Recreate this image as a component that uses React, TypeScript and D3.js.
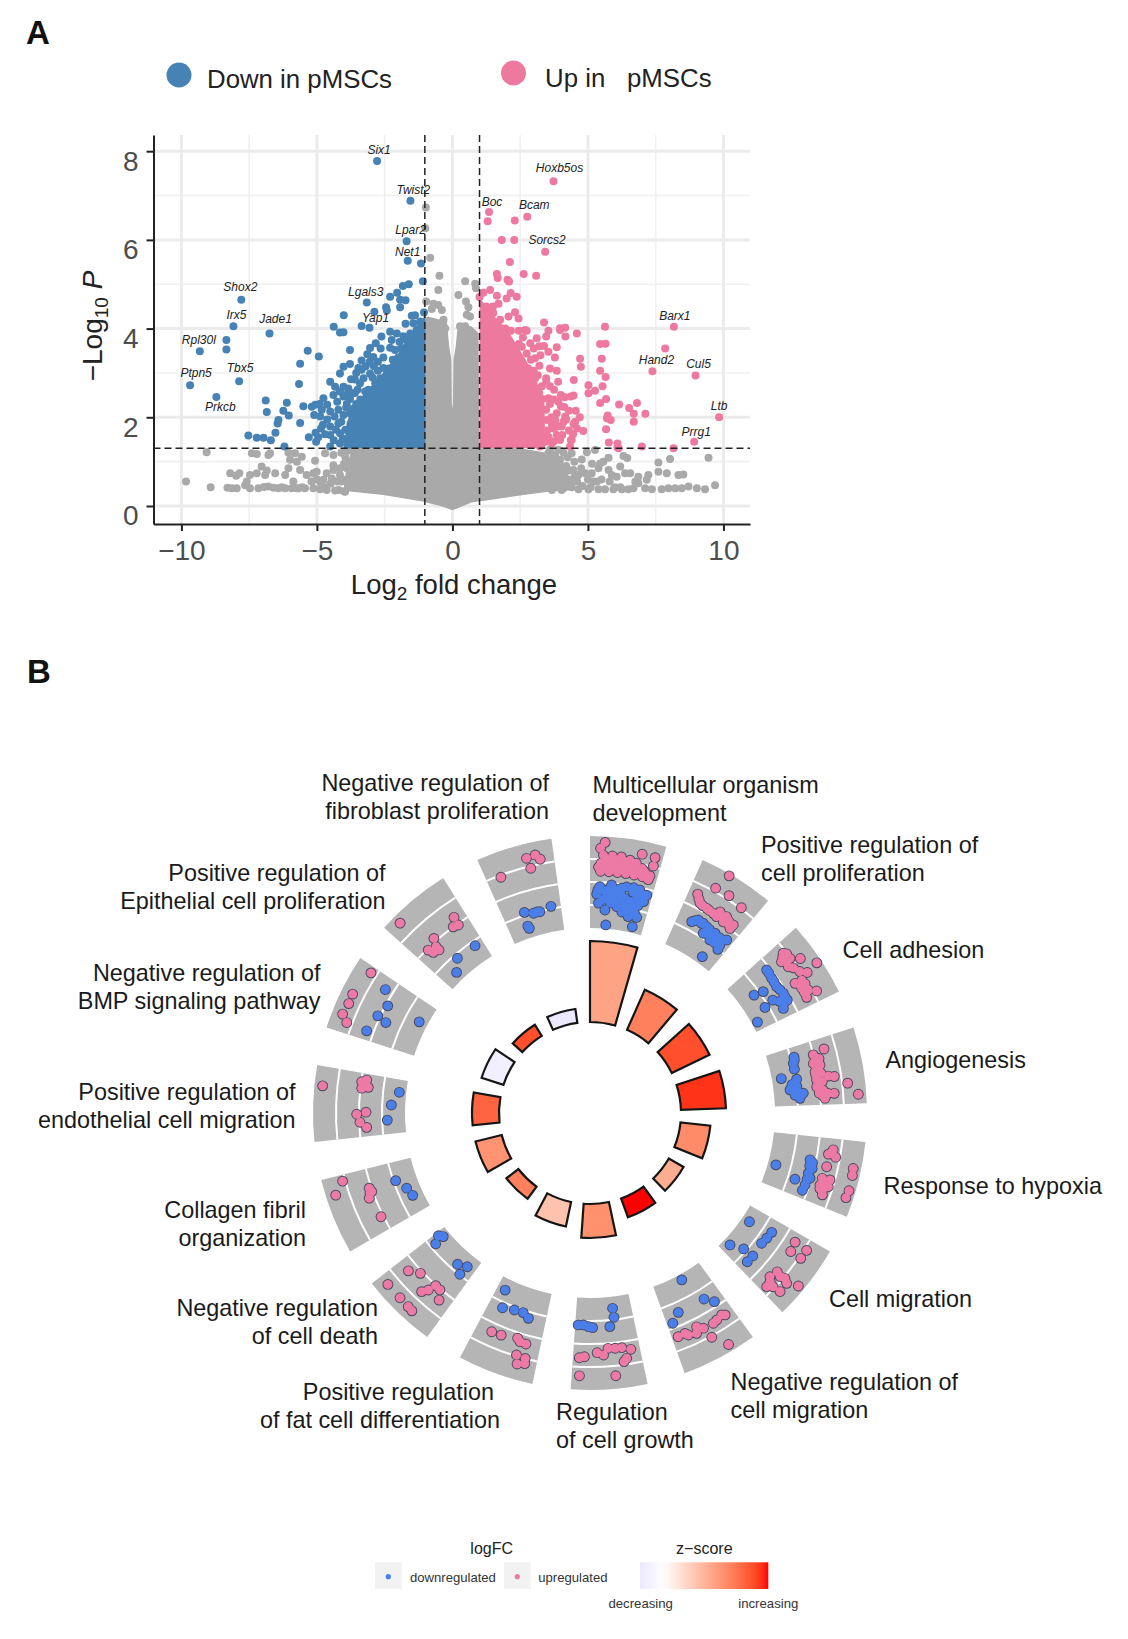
import React, { useEffect, useRef } from 'react';
import * as d3 from 'd3';

type Pair = [number, number];

const grayCloudX = [-4.0, -3.85, -3.7, -2.55, -1.44, -1.0, -0.9, -0.45, -0.3, -0.2, -0.12, -0.04, -0.02, 0, 0.02, 0.04, 0.12, 0.2, 0.7, 0.96, 1.0, 2.44, 2.9, 3.55, 3.8, 4.05, 4.3, 4.42];
const grayCloudTop = [0.5, 1.0, 1.3, 1.3, 1.3, 4.25, 4.27, 4.2, 4.15, 4.15, 3.6, 3.3, 2.3, 2.2, 2.3, 3.3, 3.6, 4.1, 4.05, 3.9, 1.3, 1.3, 1.26, 1.19, 1.15, 1.04, 0.66, 0.36];
const grayCloudLow = [0.34, 0.33, 0.32, 0.25, 0.135, 0.09, 0.07, 0.0, -0.03, -0.05, -0.07, -0.09, -0.09, -0.09, -0.09, -0.09, -0.07, -0.05, 0.08, 0.1, 0.1, 0.23, 0.27, 0.32, 0.33, 0.34, 0.35, 0.36];
const blueCloudX = [-4.0, -3.9, -3.3, -2.7, -2.05, -1.69, -1.32, -1.0];
const blueCloudTop = [1.3, 1.9, 2.5, 2.9, 3.4, 3.7, 4.05, 4.3];
const pinkCloudX = [1.0, 1.5, 2.0, 2.5, 3.0, 3.4, 3.42];
const pinkCloudTop = [4.7, 4.3, 4.0, 3.5, 3.0, 2.3, 1.3];

const grayPoints: Pair[] = [
  [-9.83, 0.55], [-9.07, 1.21], [-8.92, 0.42], [-8.3, 0.41], [-8.14, 0.4], [-7.96, 0.4], [-8.2, 0.74], [-7.86, 0.74], [-7.98, 0.68],
  [-7.59, 0.55], [-7.65, 0.47], [-7.47, 0.4], [-7.16, 0.4], [-7.47, 0.7], [-7.22, 0.74], [-7.04, 0.89], [-6.85, 0.8], [-6.91, 0.7],
  [-7.4, 1.19], [-7.22, 1.17], [-6.73, 1.19], [-6.79, 1.15], [-6.54, 0.74], [-6.17, 0.7], [-6.05, 0.85], [-6.79, 0.44], [-6.6, 0.41],
  [-6.42, 0.4], [-6.17, 0.4], [-5.93, 0.4], [-5.87, 0.55], [-5.68, 0.4], [-5.44, 0.4], [-6.05, 1.2], [-5.81, 1.19], [-5.99, 1.04],
  [-5.56, 1.11], [-5.74, 1.0], [-5.07, 1.02], [-4.7, 1.19], [-4.39, 1.15], [-5.62, 0.81], [-5.38, 0.7], [-5.13, 0.74], [-5.01, 0.77],
  [-4.64, 0.74], [-4.39, 0.81], [-4.76, 0.59], [-4.45, 0.62], [-4.15, 0.7], [-4.39, 0.92], [-5.13, 0.4], [-4.88, 0.38], [-4.64, 0.36],
  [-4.33, 0.35], [-3.96, 0.32], [-4.1, 0.55], [-3.9, 0.85], [-3.95, 1.1],
  [-4.0, 0.33], [-4.2, 0.36], [-3.8, 1.25], [-3.85, 1.0], [-3.8, 0.7], [-4.0, 0.95], [-4.15, 0.85], [-4.05, 0.6], [-4.25, 0.55], [-4.5, 0.5],
  [-4.7, 0.42], [-4.85, 0.5], [-5.0, 0.6], [-5.2, 0.55], [-5.55, 0.42], [-5.75, 0.4], [-6.3, 0.42], [-6.95, 0.43], [-3.95, 1.25], [-4.1, 1.2],
  [-0.98, 6.73], [-1.0, 6.26], [-0.82, 5.6], [-0.48, 5.19], [-0.52, 4.87], [0.47, 5.07], [0.22, 4.76], [0.84, 5.01], [0.87, 4.91],
  [0.5, 4.61], [0.59, 4.48], [-0.97, 4.61], [-0.7, 4.56], [-0.52, 4.53], [-0.39, 4.42], [-0.76, 4.44], [0.53, 4.31], [0.65, 4.27],
  [0.28, 4.05], [0.47, 4.05], [-0.33, 4.2], [-0.27, 4.0],
  [4.4, 1.19], [4.96, 1.21], [5.26, 1.26], [5.76, 1.09], [6.31, 1.13], [6.45, 1.08], [4.77, 1.05], [5.45, 0.96], [5.57, 1.0], [6.19, 0.89],
  [7.6, 0.98], [8.03, 1.06], [9.45, 1.09], [4.46, 0.81], [4.65, 0.7], [4.9, 0.74], [5.14, 0.74], [5.39, 0.85], [5.76, 0.81], [5.88, 0.7],
  [6.06, 0.66], [6.37, 0.74], [6.56, 0.74], [7.23, 0.7], [7.6, 0.77], [7.91, 0.74], [8.34, 0.7], [8.52, 0.71], [6.86, 0.66], [7.17, 0.59],
  [4.4, 0.51], [5.33, 0.55], [5.5, 0.6], [4.65, 0.38], [5.02, 0.38], [5.39, 0.38], [5.63, 0.38], [5.94, 0.38], [6.25, 0.38], [6.49, 0.38],
  [6.68, 0.4], [6.86, 0.51], [7.11, 0.4], [7.36, 0.38], [7.72, 0.38], [7.97, 0.4], [8.22, 0.4], [8.46, 0.4], [8.71, 0.44], [9.02, 0.4],
  [9.32, 0.38], [9.69, 0.47], [3.67, 0.36], [4.03, 0.36], [4.28, 0.59], [4.03, 0.81], [3.97, 1.04], [3.79, 1.15], [3.54, 1.19], [4.2, 0.9],
  [4.1, 0.4], [4.4, 0.42], [4.6, 0.55], [4.8, 0.45], [5.1, 0.42], [5.2, 0.55], [4.5, 0.65], [4.3, 0.8], [4.5, 1.0], [4.1, 1.2],
  [4.25, 1.1], [3.9, 1.27], [3.6, 1.27], [4.75, 0.85], [5.0, 0.6], [5.15, 0.95], [5.8, 0.55], [6.0, 0.42], [6.2, 0.42], [6.75, 0.55],
];

const bluePoints: Pair[] = [
  [-1.16, 5.47], [-1.09, 5.07], [-1.61, 5.0], [-1.83, 4.96], [-2.04, 4.81], [-2.3, 4.72], [-1.93, 4.65], [-1.73, 4.64], [-1.93, 4.48],
  [-2.45, 4.48], [-2.42, 4.41], [-2.88, 4.38], [-4.01, 4.3], [-1.5, 4.29], [-1.38, 4.3], [-1.05, 4.36], [-1.73, 4.11], [-3.35, 4.06],
  [-4.38, 4.04], [-4.15, 3.91], [-4.02, 3.92], [-8.34, 3.74], [-8.34, 3.53], [-5.34, 3.5], [-4.93, 3.37], [-5.62, 3.21], [-5.66, 2.75],
  [-6.89, 2.38], [-6.11, 2.33], [-6.85, 2.12], [-6.24, 2.15], [-6.04, 2.04], [-5.5, 2.25], [-5.19, 2.24], [-5.06, 2.28], [-6.42, 1.94],
  [-6.45, 1.86], [-5.62, 1.87], [-6.53, 1.65], [-7.53, 1.59], [-7.22, 1.54], [-6.97, 1.54], [-6.7, 1.48], [-6.2, 1.34], [-5.03, 1.45],
  [-3.78, 3.52], [-2.62, 3.82], [-2.83, 3.67], [-3.04, 3.56], [-3.14, 3.42], [-2.92, 3.36], [-3.35, 3.28], [-3.78, 3.2], [-4.02, 3.14],
  [-4.15, 2.99], [-3.74, 2.86], [-4.51, 2.8], [-4.33, 2.69], [-4.15, 2.58], [-4.02, 2.69], [-3.84, 2.65], [-3.71, 2.54], [-4.39, 2.5],
  [-4.02, 2.47], [-3.78, 2.41], [-4.76, 2.43], [-4.82, 2.17], [-4.51, 2.13], [-4.88, 2.02], [-4.21, 2.17], [-3.78, 2.09], [-4.02, 2.05],
  [-4.78, 1.83], [-4.51, 1.79], [-4.21, 1.86], [-4.51, 1.6], [-4.15, 1.64], [-3.78, 1.75], [-4.51, 1.34], [-4.15, 1.41], [-3.71, 1.49],
  [-3.41, 1.64], [-3.53, 1.94], [-3.28, 2.24], [-3.41, 2.77], [-3.22, 2.58], [-3.35, 3.07], [-3.47, 3.11], [-3.28, 2.88], [-3.04, 2.99],
  [-2.85, 2.77], [-2.55, 3.11], [-2.42, 2.92], [-2.67, 2.88], [-2.98, 2.47], [-2.42, 2.69], [-2.05, 3.14], [-1.87, 3.37], [-1.69, 3.59],
  [-2.3, 3.57], [-2.12, 3.52], [-2.24, 3.74], [-2.3, 3.93], [-2.05, 3.89], [-1.81, 3.83], [-1.56, 3.89], [-1.32, 3.97], [-1.32, 3.67],
  [-1.5, 3.41], [-1.44, 4.12], [-1.19, 4.16], [-3.6, 1.4], [-3.9, 2.3], [-3.55, 2.3], [-3.1, 2.2], [-2.75, 2.6], [-2.2, 3.1],
  [-4.95, 1.55], [-4.7, 1.62], [-4.85, 1.75], [-4.62, 1.95], [-4.38, 1.48], [-4.3, 1.72], [-4.35, 2.02], [-4.1, 1.9], [-4.05, 1.52], [-3.95, 1.72],
  [-3.88, 1.38], [-3.92, 2.22], [-3.7, 1.6], [-3.7, 1.95], [-3.65, 2.2], [-3.6, 1.8], [-3.5, 2.08], [-3.45, 1.5], [-3.3, 1.78], [-3.4, 2.4],
  [-3.6, 2.55], [-3.5, 2.62], [-3.15, 2.35], [-3.1, 2.62], [-3.0, 2.25], [-2.95, 2.9], [-2.8, 2.35], [-2.75, 3.05], [-2.6, 2.62], [-2.5, 2.75],
  [-2.35, 3.1], [-2.2, 3.3], [-2.55, 3.35], [-2.75, 3.25], [-2.0, 3.35], [-1.9, 3.55], [-1.95, 3.7], [-1.7, 3.75], [-1.5, 3.65], [-1.2, 4.0],
  [-4.62, 2.28], [-4.9, 2.3], [-5.1, 2.05], [-5.05, 1.65], [-5.3, 1.55], [-4.25, 2.35], [-3.95, 2.5], [-3.6, 2.85], [-3.55, 3.0], [-3.2, 3.15],
  [-3.05, 3.25], [-2.9, 3.15], [-2.65, 3.55],
];

const pinkPoints: Pair[] = [
  [1.3, 6.42], [2.3, 6.44], [1.82, 6.0], [2.28, 6.0], [2.12, 5.5], [2.63, 5.23], [3.09, 5.19], [1.64, 5.23], [1.67, 5.14], [2.03, 5.1],
  [2.09, 5.06], [1.39, 4.87], [1.14, 4.81], [1.0, 4.71], [1.64, 4.74], [1.7, 4.56], [2.15, 4.8], [2.0, 4.68], [2.37, 4.72], [1.33, 4.42],
  [1.14, 4.38], [1.51, 4.35], [2.31, 4.37], [2.07, 4.27], [2.44, 4.23], [1.76, 4.2], [3.38, 4.14], [3.97, 4.01], [4.16, 4.02], [3.97, 3.97],
  [4.59, 3.89], [4.17, 3.82], [5.63, 4.04], [7.85, 3.55], [2.16, 3.95], [2.68, 3.97], [2.74, 3.95], [3.54, 3.95], [3.46, 3.82], [3.11, 3.78],
  [3.38, 3.61], [3.85, 3.58], [3.54, 3.48], [3.78, 3.35], [2.87, 3.67], [2.56, 3.59], [2.74, 3.44], [3.05, 3.33], [5.45, 3.65], [5.65, 3.66],
  [5.51, 3.32], [4.71, 3.32], [4.74, 3.14], [5.45, 3.05], [5.65, 2.91], [3.6, 3.1], [3.21, 3.16], [4.48, 2.84], [5.02, 2.72], [5.54, 2.7],
  [5.26, 2.6], [5.02, 2.54], [3.05, 2.88], [2.99, 2.77], [3.46, 2.88], [3.46, 2.8], [2.8, 2.8], [3.75, 2.62], [4.47, 2.49], [4.37, 2.47],
  [5.67, 2.41], [5.45, 2.32], [6.15, 2.29], [6.81, 2.32], [6.52, 2.21], [6.69, 2.08], [7.12, 2.08], [6.69, 1.9], [5.73, 2.04], [5.84, 1.94],
  [5.7, 1.98], [5.67, 1.73], [4.83, 1.69], [4.53, 1.9], [4.47, 1.85], [4.16, 2.02], [4.13, 2.23], [3.91, 2.35], [3.54, 2.43], [3.33, 2.41],
  [3.05, 2.29], [3.46, 2.17], [3.85, 2.09], [3.79, 1.94], [3.48, 1.94], [3.11, 2.09], [2.74, 2.17], [3.23, 1.86], [2.99, 1.75], [3.36, 1.64],
  [3.73, 1.75], [4.2, 1.95], [3.97, 1.49], [3.73, 1.45], [3.42, 1.45], [4.37, 1.49], [4.34, 1.34], [3.23, 1.34], [5.77, 1.43], [6.09, 1.41],
  [6.09, 1.32], [6.99, 1.34], [8.16, 1.3], [6.13, 1.3], [4.4, 1.49], [3.67, 1.41], [3.97, 1.53], [3.42, 1.6], [4.03, 1.79], [3.67, 1.83],
  [2.93, 1.64], [3.11, 1.49], [2.95, 2.5], [3.1, 2.6], [2.5, 2.9],
  [2.95, 1.4], [3.05, 1.9], [3.15, 1.6], [3.3, 1.5], [3.25, 2.0], [3.5, 1.7], [3.55, 1.55], [3.65, 2.0], [3.6, 2.3], [3.85, 1.6],
  [3.9, 1.8], [4.05, 1.6], [4.1, 1.9], [4.3, 1.7], [4.45, 1.62], [4.6, 1.75], [4.55, 2.15], [4.3, 2.15], [4.0, 2.5], [3.75, 2.4],
  [3.2, 2.55], [3.3, 2.7], [3.0, 3.05], [2.9, 2.55], [2.7, 2.9], [2.8, 3.1], [2.55, 3.25], [2.9, 3.3], [3.15, 2.95], [3.25, 3.4],
  [2.4, 3.4], [2.3, 3.55], [2.1, 3.7], [2.0, 3.8], [1.95, 4.0], [1.6, 4.05], [1.35, 4.25], [1.25, 4.5], [1.5, 4.5], [1.85, 3.95],
  [2.45, 3.65], [2.6, 3.8], [2.45, 3.95], [3.0, 3.55], [3.2, 3.6], [4.0, 2.25], [4.15, 2.45], [4.7, 2.0], [3.9, 2.8], [3.6, 2.7], [3.85, 3.05],
];

const geneNames = ['Six1', 'Twist2', 'Lpar2', 'Net1', 'Shox2', 'Irx5', 'Jade1', 'Rpl30l', 'Ptpn5', 'Tbx5', 'Prkcb', 'Lgals3', 'Yap1', 'Hoxb5os', 'Boc', 'Bcam', 'Sorcs2', 'Barx1', 'Hand2', 'Cul5', 'Ltb', 'Prrg1'];
const geneFc = [-2.78, -1.55, -1.69, -1.65, -7.79, -8.08, -6.75, -9.32, -9.68, -7.87, -8.71, -3.16, -3.06, 3.73, 1.35, 2.76, 3.42, 8.17, 7.38, 8.97, 9.84, 8.92];
const geneP = [7.78, 6.88, 5.97, 5.53, 4.65, 4.05, 3.89, 3.49, 2.72, 2.81, 2.46, 4.59, 4.02, 7.32, 6.63, 6.52, 5.73, 4.04, 3.04, 2.94, 2.0, 1.45];
const geneLabelNudge: Pair[] = [[2, -11], [3, -11], [4, -11], [0, -9], [-1, -13], [3, -11], [6, -14], [-1, -11], [6, -12], [1, -13], [4, 10], [-1, -10], [6, -10], [6, -13], [3, -10], [7, -12], [2, -12], [1, -11], [4, -11], [3, -12], [0, -11], [2, -10]];

const xTicks = [-10, -5, 0, 5, 10];
const yTicks = [0, 2, 4, 6, 8];
const xMinor = [-7.5, -2.5, 2.5, 7.5];
const yMinor = [1, 3, 5, 7];

// ---- GO circle
const termCounts = [81, 44, 42, 45, 30, 17, 20, 34, 25, 15, 27, 27, 23, 13, 14];
const termZ = [1.92, 2.6, 3.4, 3.72, 2.4, 1.72, 4.0, 2.28, 1.28, 2.6, 2.24, 3.08, -0.32, 3.4, -0.5];

// [degrees into the sector, logFC position on the track]
const upDots: Pair[][] = [
  [[3.2, 40], [2.3, 34], [11.4, 33], [14.3, 32.5], [14.4, 24], [14.2, 13.5], [3, 27], [5, 27], [7, 27], [9, 25], [10.5, 23], [2.5, 19], [4.5, 19], [6.5, 19], [8.5, 19], [10.5, 19], [12, 19], [2.5, 11], [4.5, 11], [6.5, 11], [8.5, 11], [10.5, 11], [12.5, 11], [14, 9.5], [3.5, 15], [5.5, 15], [7.5, 15], [9.5, 15], [11.5, 15], [13, 15], [3.5, 23], [5.5, 23], [7.5, 23], [9, 21], [2, 15], [13.5, 12], [12.5, 17]],
  [[6.4, 44], [5.2, 26.5], [8.6, 27], [12.4, 24], [2.2, 13], [3.7, 6], [5.7, 4.6], [7.7, 3.7], [8.9, 8.6], [10.8, 8.2], [13.3, 5.4], [10.9, 2], [8.8, 2.6], [13.2, 0.7], [3, 9], [4.5, 5], [6.5, 4], [9.5, 5.5], [11.8, 6], [12.4, 3]],
  [[8.5, 41], [5.7, 30], [2.4, 19.7], [4.3, 21.8], [3.7, 13], [5.6, 15.4], [8, 22], [9.1, 27.7], [9.7, 11.6], [9.9, 19], [13.7, 26.4], [12.6, 19.6], [11.5, 14.7], [13.9, 14.6], [3, 17], [3, 22], [4.5, 17], [6.5, 19], [10.5, 15], [11, 20], [12.6, 15]],
  [[2.7, 11.6], [3.4, -0.3], [4.6, 4.4], [5.5, -2.2], [6.2, 4], [7.6, -2.2], [8.2, 3.4], [9.2, 10.2], [9.5, 16], [9.7, -2], [10.3, 3.4], [11.4, -2.8], [12.4, 3.4], [13.6, 2], [13.3, 8], [13.4, 14], [14.4, 4.5], [11.4, 28.4], [14, 38], [5, 0], [7, 1], [8.5, -2], [10.7, 0], [12, 0], [13, -1]],
  [[2.6, 15], [3.8, 11], [4.2, 18.6], [6.8, 11.7], [5.9, 38], [7.4, 38.7], [9.7, 10.3], [9.6, 18.2], [11.4, 10], [11.2, 18.4], [13.4, 15.4], [10.7, 39.4], [12.3, 38.6], [10.5, 13], [12.5, 14], [12.2, 11], [3.2, 14]],
  [[2.2, 11.4], [4.6, 12.9], [2.4, 25.5], [4.6, 25], [10.3, 14.5], [13.1, 15.7], [13.5, 21.5], [13.2, 29.8], [10.9, 29.2], [10.3, 24.6], [9.7, 39.8], [12.3, 12.3], [14.5, 16.8], [10.7, 19.8]],
  [[4.5, 11.7], [2.2, 12], [2.9, 10], [5.6, 12.8], [8.2, 12.3], [10.2, 13.8], [12.1, 11.8], [14.5, 9.5], [7.5, 24.2], [5.1, 38.8], [12.7, 9], [9.5, 7.9]],
  [[2.2, 8.8], [4.3, 5.8], [5.9, 5.6], [7.6, 5], [8.8, 11.4], [10.3, 8.8], [13.3, 12.8], [4.2, 20], [14.3, 32], [6.4, 33], [3.5, 17], [14.5, 14]],
  [[12.2, 8.8], [9.8, 8.2], [5.8, 5.6], [5, 8.2], [3.5, 8.7], [4.9, 21.9], [2.8, 22.8], [4.2, 30.4], [2.6, 28]],
  [[13, 9.6], [10.6, 2.4], [13.7, 34], [9.8, 34], [7.2, 34.6], [6, 35.2], [7.3, 14.5], [6.4, 8.7], [5.8, 0.6], [4.3, 1], [2.9, 9.4]],
  [[14.6, 25.6], [12.1, 36.2], [11.2, 2.2], [10, 3.2], [8.9, 5.6], [10.2, 1], [3.6, 2.3]],
  [[11.8, 37.7], [13.8, -0.6], [14.4, -5.3], [12.7, -4.5], [12.2, -1.4], [12.6, -7.8], [5.7, 2.3], [6.2, -7], [3.7, -0.8], [2.3, -7.2]],
  [[14.6, 29], [8.6, 34.5], [6.4, 33.9], [3.8, 35.4], [2.4, 28.5]],
  [[3, 37.5], [13.2, 7.3], [11.7, 0], [13, -1.5], [6.2, 3.2], [5.2, -4.3], [3.2, -1.4], [3.7, -6.6], [5.2, -8.8]],
  [[3.3, 21], [10, 31.5], [10.4, 20.8], [12, 32.8], [12.9, 27.6]],
];
const downDots: Pair[][] = [
  [[2.5, -4.5], [5.4, -2], [9.2, -2], [12.6, -2.5], [14.6, -6], [1.75, -12], [4.4, -14], [6.7, -16.5], [9.3, -13.5], [12.3, -11], [14.2, -13], [2.3, -21], [4.2, -27.5], [7.4, -23], [9.5, -20], [12, -23.4], [11, -31], [13.4, -30], [4.8, -42.3], [12.8, -40], [9, -27.5], [3.5, -8], [7, -6], [11, -6], [6, -11], [8, -10], [10.5, -16], [13, -18], [5.5, -20], [2, -8], [5, -6], [8, -4], [11, -1.5], [13.5, -7], [3.5, -17], [5.5, -15], [8, -15], [11.5, -15.5], [13, -13], [7, -19], [10.5, -22], [12.5, -26], [10, -25]],
  [[4, -14.3], [5.3, -9.7], [8, -11.2], [10.8, -12], [14.3, -10.5], [8.2, -18.6], [10.7, -20.5], [13.7, -18.6], [14, -23.4], [11.7, -38.5], [6.5, -11], [9.5, -15], [4.6, -12], [6.8, -10], [9, -12], [9, -17], [11.5, -15], [12.5, -13], [12, -20]],
  [[3, -3.7], [5.4, -4.8], [7.9, -5.6], [10.2, -3.6], [12.2, -3.6], [13.6, -11.2], [10.3, -16.2], [10.9, -26.6], [7, -19.5], [6.3, -29], [13.5, -40.5], [4, -4], [6.5, -5], [9, -4.5], [11.2, -4], [12.5, -8], [11.5, -11]],
  [[2.7, -19.5], [4.3, -21.7], [5.9, -22], [7.8, -36.6], [8.7, -21.6], [10.6, -22.5], [11.4, -29.7], [12.2, -21.6], [14, -20.5], [12.7, -16.8], [13, -25.2], [3.5, -20], [10, -27], [11.5, -25]],
  [[9.6, -38], [11.9, -15.6], [6, -6], [6.6, -3], [9.4, -4.5], [10.5, -1.5], [12.5, -4.2], [14, -5], [7.5, -5], [8, -2], [11, -4]],
  [[4.3, -38], [13.3, -38.6], [11.5, -25.8], [3.3, -13.6], [5.3, -14.4], [7.2, -15.5], [11.3, -14.4], [13.4, -14.5]],
  [[7.2, -40.5], [4.5, -12.8], [2.6, -5], [12.1, -13], [14.5, -5]],
  [[5.4, -34.4], [5.3, -25.3], [6.7, -16.4], [15.2, -18.7], [13.8, -19], [12.4, -17.3], [11.3, -16.3]],
  [[13.6, -34.6], [12.2, -17.5], [9, -20], [6.5, -20.5], [4.7, -16.6]],
  [[15, -36], [13.9, -39.1], [13.7, -28.6], [5.2, -30], [2.6, -34.3], [2.9, -23.8]],
  [[10.8, -25.2], [7.7, -32.8], [5.1, -35.5]],
  [[12.2, -39.2], [8.3, -32.2], [4, -28.2]],
  [[13.1, 8], [9.9, -2.1], [6.6, 2.4], [5.9, -7.7], [2.2, 7], [10.1, -37.4]],
  [[13.5, -28], [7.4, -27.2], [4.5, -37.2]],
  [[5.9, -20], [9.2, -23.1], [13.3, -20.7], [5.6, -34], [8.2, -23.4], [10, -23.6], [5.8, -36.6]],
];
const trackLines = [-23, 0, 23];

const termLabels: { lines: string[]; anchor: string; x: number; y: number; firstDx?: number }[] = [
  { lines: ['Multicellular organism', 'development'], anchor: 'start', x: 592.5, y: 793 },
  { lines: ['Positive regulation of', 'cell proliferation'], anchor: 'start', x: 761, y: 853 },
  { lines: ['Cell adhesion'], anchor: 'start', x: 842.5, y: 958 },
  { lines: ['Angiogenesis'], anchor: 'start', x: 885.5, y: 1068 },
  { lines: ['Response to hypoxia'], anchor: 'start', x: 883.5, y: 1194 },
  { lines: ['Cell migration'], anchor: 'start', x: 829, y: 1307 },
  { lines: ['Negative regulation of', 'cell migration'], anchor: 'start', x: 730.5, y: 1389.5 },
  { lines: ['Regulation', 'of cell growth'], anchor: 'start', x: 556, y: 1420 },
  { lines: ['Positive regulation', 'of fat cell differentiation'], anchor: 'end', x: 500, y: 1399.5, firstDx: -6 },
  { lines: ['Negative regulation', 'of cell death'], anchor: 'end', x: 378, y: 1316 },
  { lines: ['Collagen fibril', 'organization'], anchor: 'end', x: 306, y: 1218 },
  { lines: ['Positive regulation of', 'endothelial cell migration'], anchor: 'end', x: 295.5, y: 1100 },
  { lines: ['Negative regulation of', 'BMP signaling pathway'], anchor: 'end', x: 320.5, y: 981 },
  { lines: ['Positive regulation of', 'Epithelial cell proliferation'], anchor: 'end', x: 385.5, y: 881 },
  { lines: ['Negative regulation of', 'fibroblast proliferation'], anchor: 'end', x: 549, y: 791 },
];

const FONT = '"Liberation Sans", Arial, sans-serif';
const BLUE = '#4682B4';
const PINK = '#EE799F';
const GRAY = '#A9A9A9';
const DOT_DOWN = '#4A7FEA';
const DOT_UP = '#EC7AA5';
const VOLCANO_R = 4;

const App: React.FC = () => {
  const svgRef = useRef<SVGSVGElement>(null);

  useEffect(() => {
    if (!svgRef.current) return;
    const svg = d3.select(svgRef.current);
    svg.selectAll('*').remove();

    const text = (parent: any, x: number, y: number, s: string, size: number, anchor = 'start', fill = '#111') =>
      parent.append('text')
        .attr('x', x).attr('y', y)
        .attr('font-family', FONT).attr('font-size', size)
        .attr('text-anchor', anchor).attr('fill', fill)
        .text(s);

    // panel letters and top legend
    text(svg, 26, 44, 'A', 33).attr('font-weight', 'bold');
    text(svg, 27, 683, 'B', 33).attr('font-weight', 'bold');
    svg.append('circle').attr('cx', 179).attr('cy', 75).attr('r', 12.5).attr('fill', BLUE);
    text(svg, 207, 88, 'Down in pMSCs', 25.8, 'start', '#222');
    svg.append('circle').attr('cx', 513.5).attr('cy', 73).attr('r', 12.5).attr('fill', PINK);
    text(svg, 545, 87, 'Up in', 25.8, 'start', '#222');
    text(svg, 627, 87, 'pMSCs', 25.8, 'start', '#222');

    // ---- volcano
    const x = d3.scaleLinear().domain([-11.03, 10.98]).range([153.5, 750]);
    const y = d3.scaleLinear().domain([-0.406, 8.365]).range([524, 135]);

    const grid = svg.append('g');
    xMinor.forEach(v => grid.append('line').attr('x1', x(v)).attr('x2', x(v)).attr('y1', 135).attr('y2', 524).attr('stroke', '#F0F0F0').attr('stroke-width', 1.6));
    yMinor.forEach(v => grid.append('line').attr('x1', 153.5).attr('x2', 750).attr('y1', y(v)).attr('y2', y(v)).attr('stroke', '#F0F0F0').attr('stroke-width', 1.6));
    xTicks.forEach(v => grid.append('line').attr('x1', x(v)).attr('x2', x(v)).attr('y1', 135).attr('y2', 524).attr('stroke', '#EBEBEB').attr('stroke-width', 3));
    yTicks.forEach(v => grid.append('line').attr('x1', 153.5).attr('x2', 750).attr('y1', y(v)).attr('y2', y(v)).attr('stroke', '#EBEBEB').attr('stroke-width', 3));

    const cloud = d3.area<number>()
      .x(d => x(d))
      .curve(d3.curveLinear);

    svg.append('path')
      .attr('d', cloud.y0((_, i) => y(grayCloudLow[i])).y1((_, i) => y(grayCloudTop[i]))(grayCloudX) as string)
      .attr('fill', GRAY);
    const dots = (pts: Pair[], fill: string) => svg.append('g').selectAll('circle').data(pts).join('circle')
      .attr('cx', d => x(d[0])).attr('cy', d => y(d[1])).attr('r', VOLCANO_R).attr('fill', fill);
    dots(grayPoints, GRAY);

    svg.append('path')
      .attr('d', cloud.y0(y(1.3)).y1((_, i) => y(blueCloudTop[i]))(blueCloudX) as string)
      .attr('fill', BLUE);
    dots(bluePoints, BLUE);
    svg.append('path')
      .attr('d', cloud.y0(y(1.3)).y1((_, i) => y(pinkCloudTop[i]))(pinkCloudX) as string)
      .attr('fill', PINK);
    dots(pinkPoints, PINK);

    geneNames.forEach((name, i) => {
      const px = x(geneFc[i]);
      const py = y(geneP[i]);
      svg.append('circle').attr('cx', px).attr('cy', py).attr('r', VOLCANO_R).attr('fill', geneFc[i] < 0 ? BLUE : PINK);
      text(svg, px + geneLabelNudge[i][0], py + geneLabelNudge[i][1] + 4, name, 12, 'middle', '#222').attr('font-style', 'italic');
    });

    // thresholds
    const dash = (x1: number, x2: number, y1: number, y2: number) => svg.append('line')
      .attr('x1', x1).attr('x2', x2).attr('y1', y1).attr('y2', y2)
      .attr('stroke', '#222').attr('stroke-width', 1.5).attr('stroke-dasharray', '7 4');
    dash(153.5, 750, y(1.3), y(1.3));
    dash(x(-1) - 0.5, x(-1) - 0.5, 135, 524);
    dash(x(1), x(1), 135, 524);

    // axes
    const xAxis = svg.append('g').attr('transform', 'translate(0,524)')
      .call(d3.axisBottom(x).tickValues(xTicks).tickSize(7).tickSizeOuter(0));
    const yAxis = svg.append('g').attr('transform', 'translate(153.5,0)')
      .call(d3.axisLeft(y).tickValues(yTicks).tickSize(7).tickSizeOuter(0));
    [xAxis, yAxis].forEach(a => {
      a.select('.domain').attr('stroke', '#222').attr('stroke-width', 2);
      a.selectAll('.tick line').attr('stroke', '#222').attr('stroke-width', 2);
      a.selectAll('.tick text').attr('font-family', FONT).attr('font-size', 28).attr('fill', '#4d4d4d');
    });
    xAxis.selectAll('.tick text').attr('y', 16);
    yAxis.selectAll('.tick text').attr('x', -15).attr('y', 10);

    const xTitle = text(svg, 454, 593.5, '', 27.5, 'middle', '#222');
    xTitle.append('tspan').text('Log');
    xTitle.append('tspan').text('2').attr('font-size', 19).attr('dy', 6);
    xTitle.append('tspan').text(' fold change').attr('dy', -6);

    const yTitle = text(svg, 0, 0, '', 28, 'middle', '#222').attr('transform', 'translate(102,326) rotate(-90)');
    yTitle.append('tspan').text('\u2212Log');
    yTitle.append('tspan').text('10').attr('font-size', 19).attr('dy', 6);
    yTitle.append('tspan').text(' ').attr('dy', -6);
    yTitle.append('tspan').text('P').attr('font-style', 'italic');

    // ---- GO circle
    const circle = svg.append('g').attr('transform', 'translate(590,1113)');
    const step = 24;
    const span = 16;
    const rad = (deg: number) => (deg * Math.PI) / 180;
    const barR = d3.scaleLinear().domain([0, 81]).range([91, 172]);
    const trackR = d3.scaleLinear().domain([-46, 46]).range([185, 277]);
    const zColor = d3.scaleLinear<string>().domain([-4, 0, 4]).range(['#0055ff', '#ffffff', '#ff0000']).interpolate(d3.interpolateLab);
    const arc = d3.arc();

    termCounts.forEach((count, i) => {
      const a0 = rad(i * step);
      const a1 = rad(i * step + span);
      circle.append('path')
        .attr('d', arc({ innerRadius: trackR(-46), outerRadius: trackR(46), startAngle: a0, endAngle: a1 }) as string)
        .attr('fill', '#B5B5B5');
      trackLines.forEach(v => circle.append('path')
        .attr('d', arc({ innerRadius: trackR(v) - 1, outerRadius: trackR(v) + 1, startAngle: a0, endAngle: a1 }) as string)
        .attr('fill', '#fff'));

      circle.append('path')
        .attr('d', arc({ innerRadius: barR(0), outerRadius: barR(count), startAngle: a0, endAngle: a1 }) as string)
        .attr('fill', zColor(termZ[i]))
        .attr('stroke', '#151515').attr('stroke-width', 2.2).attr('stroke-linejoin', 'miter');

      const pos = (d: Pair) => {
        const ang = rad(i * step + d[0]);
        const r = trackR(d[1]);
        return [r * Math.sin(ang), -r * Math.cos(ang)];
      };
      const layer = (pts: Pair[], fill: string) => {
        circle.append('g').selectAll('circle').data(pts).join('circle')
          .attr('cx', d => pos(d)[0]).attr('cy', d => pos(d)[1]).attr('r', 5.4).attr('fill', '#46465f');
        circle.append('g').selectAll('circle').data(pts).join('circle')
          .attr('cx', d => pos(d)[0]).attr('cy', d => pos(d)[1]).attr('r', 4.5).attr('fill', fill);
      };
      layer(downDots[i], DOT_DOWN);
      layer(upDots[i], DOT_UP);
    });

    termLabels.forEach(l => {
      l.lines.forEach((s, j) => text(svg, l.x + (j === 0 && l.firstDx ? l.firstDx : 0), l.y + j * 28.4, s, 23.4, l.anchor, '#1a1a1a'));
    });

    // ---- bottom legend
    text(svg, 491.7, 1554, 'logFC', 16, 'middle', '#222');
    text(svg, 704.3, 1554, 'z\u2212score', 16, 'middle', '#222');
    [[375, DOT_DOWN, 'downregulated', 410], [504, DOT_UP, 'upregulated', 538.3]].forEach(([bx, col, label, tx]: any) => {
      svg.append('rect').attr('x', bx).attr('y', 1562.3).attr('width', 26.7).attr('height', 26.7).attr('fill', '#F2F2F2');
      svg.append('circle').attr('cx', bx + 13.3).attr('cy', 1576.7).attr('r', 2.6).attr('fill', col);
      text(svg, tx, 1581.5, label, 13.1, 'start', '#333');
    });
    const grad = svg.append('defs').append('linearGradient').attr('id', 'zgrad');
    d3.range(0, 1.001, 0.05).forEach(o => {
      const z = o < 0.18 ? (-0.5 * (0.18 - o)) / 0.18 : (4 * (o - 0.18)) / 0.82;
      grad.append('stop').attr('offset', o).attr('stop-color', zColor(z));
    });
    svg.append('rect').attr('x', 640).attr('y', 1562.3).attr('width', 128.3).attr('height', 26.7).attr('fill', 'url(#zgrad)');
    text(svg, 640.7, 1607.5, 'decreasing', 13.2, 'middle', '#333');
    text(svg, 768.3, 1607.5, 'increasing', 13.2, 'middle', '#333');
  }, []);

  return (
    <svg
      ref={svgRef}
      width={1128}
      height={1639}
      viewBox="0 0 1128 1639"
      style={{ position: 'absolute', left: 0, top: 0, background: '#fff' }}
    />
  );
};

export default App;
